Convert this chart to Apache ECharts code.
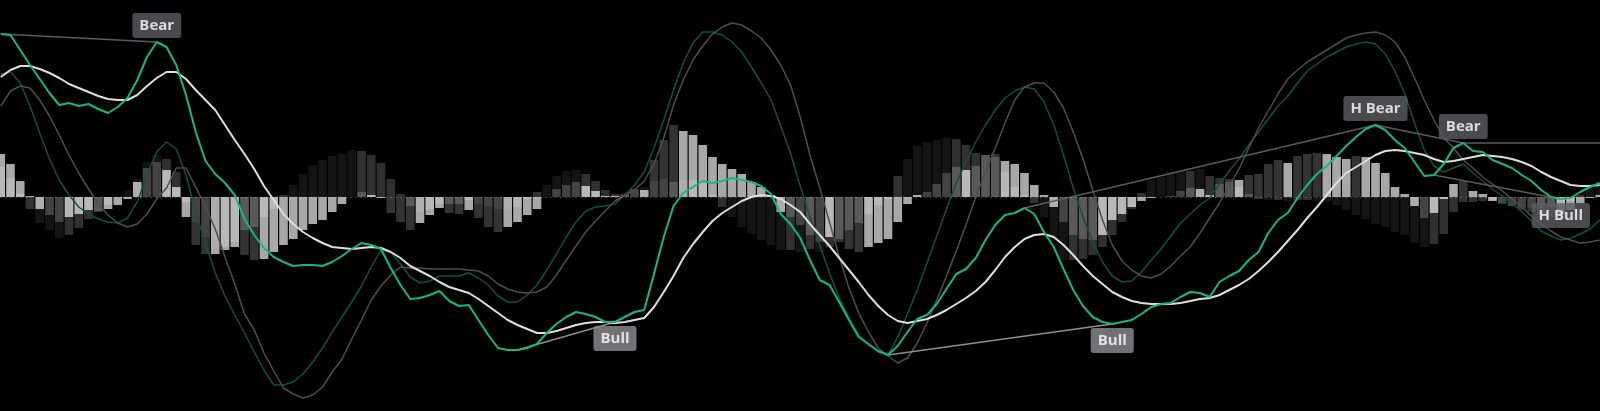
<!DOCTYPE html>
<html><head><meta charset="utf-8">
<script src="https://cdn.jsdelivr.net/npm/echarts@6/dist/echarts.min.js"></script>
<style>html,body{margin:0;padding:0;background:#000;overflow:hidden}#c{width:1600px;height:411px}</style>
</head><body><div id="c"></div><script>
// Fast MACD line (bright green)
const fastMacd=[163,162,147,132,118,104,92,94,91,93,88,84,90,99,117,140,155,150,132,102,65,36,23,14,2,-22,-38,-51,-60,-65,-69,-68,-68,-69,-65,-59,-52,-46,-48,-52,-71,-88,-102,-101,-98,-94,-104,-109,-108,-123,-138,-151,-153,-153,-151,-147,-136,-127,-120,-115,-117,-120,-125,-125,-120,-115,-113,-77,-40,-9,4,10,16,14,16,19,17,15,11,3,-17,-27,-41,-63,-83,-88,-105,-123,-140,-147,-154,-158,-149,-135,-122,-118,-107,-92,-77,-72,-61,-43,-28,-18,-16,-11,-17,-35,-50,-72,-93,-109,-120,-125,-127,-125,-123,-117,-110,-107,-106,-100,-95,-96,-100,-85,-79,-74,-63,-55,-36,-23,-16,-1,12,23,31,41,51,60,68,72,67,57,49,35,21,22,33,49,54,46,45,37,33,29,22,16,7,0,-2,-1,5,10,14];
// Fast signal line (white)
const fastSignal=[120,127,131,131,128,124,119,113,109,105,101,98,97,97,102,111,119,125,125,118,107,97,87,72,57,43,28,11,-3,-17,-27,-35,-41,-46,-50,-51,-52,-51,-50,-51,-55,-61,-69,-74,-79,-85,-90,-93,-96,-102,-109,-116,-123,-128,-132,-136,-136,-134,-131,-128,-126,-125,-125,-126,-125,-123,-121,-110,-95,-79,-61,-47,-35,-24,-16,-10,-4,0,2,1,-2,-8,-15,-27,-38,-49,-61,-73,-85,-98,-109,-118,-124,-126,-124,-122,-118,-113,-107,-101,-94,-85,-73,-60,-50,-42,-38,-37,-40,-48,-58,-69,-79,-87,-95,-100,-104,-106,-107,-107,-107,-106,-104,-102,-101,-98,-93,-88,-82,-74,-65,-55,-44,-33,-21,-10,2,14,24,30,36,42,46,47,46,44,42,38,35,36,38,40,42,41,40,38,35,31,25,20,16,12,11,11,12];
// Slow MACD line (dark green)
const slowMacd=[123,125,114,91,64,38,17,2,-10,-17,-22,-25,-26,-21,-5,22,45,55,48,22,-15,-47,-76,-99,-118,-136,-155,-173,-188,-188,-185,-177,-165,-151,-135,-120,-105,-89,-70,-53,-55,-67,-80,-86,-84,-79,-79,-79,-76,-81,-88,-99,-105,-105,-98,-88,-73,-57,-40,-25,-14,-10,-9,-7,2,12,25,49,77,107,134,154,165,165,162,155,145,130,114,97,71,44,11,-20,-48,-76,-101,-121,-138,-148,-155,-158,-140,-117,-93,-66,-39,-12,14,35,55,72,87,99,106,110,108,95,72,42,9,-20,-45,-65,-79,-85,-84,-75,-63,-52,-39,-26,-17,-8,-1,13,26,38,52,65,78,91,101,114,126,133,140,145,150,153,155,153,143,126,103,74,47,31,25,29,33,24,16,8,1,-6,-15,-24,-34,-39,-43,-41,-37,-32,-23];
// Slow signal line (grey)
const slowSignal=[91,106,111,109,97,81,62,42,24,8,-7,-18,-26,-30,-27,-17,-2,9,29,29,10,-10,-32,-60,-87,-117,-133,-156,-174,-191,-197,-201,-198,-190,-175,-162,-142,-123,-103,-89,-78,-70,-71,-71,-72,-72,-72,-72,-73,-74,-79,-87,-92,-95,-96,-95,-90,-78,-63,-49,-35,-24,-14,-4,2,7,16,33,59,92,117,137,151,163,170,174,172,166,159,147,132,112,80,42,9,-25,-60,-91,-116,-135,-151,-159,-166,-161,-146,-126,-103,-79,-54,-28,0,25,49,74,97,110,114,114,105,89,65,38,7,-23,-48,-64,-73,-79,-81,-77,-69,-59,-50,-36,-21,-6,11,28,49,69,86,103,118,127,135,141,147,153,159,162,164,165,162,155,140,119,97,77,59,49,37,29,20,13,6,-2,-10,-19,-27,-34,-40,-43,-46,-45,-43];
// Fast histogram (light)
const fastHist=[43,33,16,1,-12,-18,-25,-20,-17,-13,-14,-12,-8,-2,15,29,35,27,10,-20,-48,-57,-57,-53,-50,-58,-63,-62,-55,-48,-42,-33,-27,-23,-15,-7,0,5,2,-1,-16,-25,-33,-26,-18,-11,-16,-17,-13,-21,-30,-35,-30,-25,-18,-12,0,8,12,15,11,6,1,1,3,8,7,37,57,72,66,62,52,40,33,28,23,15,10,2,-15,-20,-28,-38,-45,-40,-45,-52,-55,-50,-46,-42,-25,-7,2,5,13,24,30,27,31,42,43,36,33,24,12,2,-10,-25,-38,-42,-43,-38,-23,-17,-10,-4,-1,0,1,6,9,8,2,13,18,17,22,23,33,37,34,41,43,44,43,40,38,41,40,34,24,10,3,-9,-21,-16,-2,13,16,6,3,-4,-7,-9,-13,-15,-18,-20,-18,-13,-6,-1,2];
// Slow histogram (dark)
const slowHist=[30,19,3,-12,-26,-33,-41,-38,-31,-22,-15,-8,0,7,18,35,42,38,25,-5,-25,-40,-50,-50,-45,-33,-30,-20,-12,2,12,23,32,37,41,43,47,46,42,34,18,3,-9,-15,-12,-7,-7,-7,-3,-7,-9,-12,-13,-10,-2,5,12,21,26,27,23,16,7,3,2,8,10,16,18,15,17,17,14,2,-10,-20,-30,-37,-43,-48,-53,-53,-55,-52,-55,-50,-42,-33,-26,-17,-8,-2,21,38,51,55,57,59,58,52,44,42,40,25,10,2,-6,-20,-43,-63,-63,-62,-58,-50,-38,-25,-12,4,17,20,25,26,26,28,21,19,15,10,3,-2,-3,-3,-4,-3,-3,-4,-5,-8,-13,-18,-22,-27,-30,-35,-38,-46,-50,-47,-37,-15,-5,-5,-4,-3,-6,-9,-10,-11,-11,-10,-8,-4,2,9,15];
// Divergences: indexes of the fast-MACD pivots they join
const divergences=[
  {label:'Bear',   from:0,   to:16,  labelAt:16,  side:'top',    tone:'dark'},
  {label:'Bull',   from:53,  to:63,  labelAt:63,  side:'bottom', tone:'light'},
  {label:'Bull',   from:91,  to:114, labelAt:114, side:'bottom', tone:'light'},
  {label:'H Bear', from:105, to:141, labelAt:141, side:'top',    tone:'dark'},
  {label:'Bear',   from:141, to:150, labelAt:150, side:'top',    tone:'dark'},
  {label:'H Bull', from:147, to:160, labelAt:160, side:'bottom', tone:'dark'}
];
const extendFrom=150; // horizontal continuation of the last Bear level

const N=fastMacd.length;
function histData(arr, grow, shrink){
  return arr.map((v,i)=>{
    const prev=i>0?arr[i-1]:v;
    const growing=Math.abs(v)>Math.abs(prev) && (v*prev>=0);
    return {value:[i,v], itemStyle:{color: growing?grow:shrink}};
  });
}
const lineData=a=>a.map((v,i)=>[i,v]);

const series=[
  {type:'bar', data:histData(slowHist,'rgba(255,255,255,0.08)','rgba(255,255,255,0.19)'), barWidth:8.6, barGap:'-100%', z:1},
  {type:'bar', data:histData(fastHist,'rgba(255,255,255,0.2)','rgba(255,255,255,0.66)'), barWidth:8.6, barGap:'-100%', z:2,
   markLine:{silent:true,symbol:'none',label:{show:false},lineStyle:{color:'rgba(255,255,255,0.22)',type:[2,3],width:1},data:[{yAxis:0}]}},
  {type:'line', data:lineData(slowMacd), symbol:'none', lineStyle:{color:'#12523a',width:1.5}, z:3},
  {type:'line', data:lineData(slowSignal), symbol:'none', lineStyle:{color:'#4e4e4e',width:1.5}, z:3},
];
divergences.forEach(d=>{
  series.push({type:'line', symbol:'none', z:4,
    data:[[d.from,fastMacd[d.from]],[d.to,fastMacd[d.to]]],
    lineStyle:{color:d.tone==='light'?'#8f8f93':'#5c5c60',width:1.5}});
});
series.push({type:'line', symbol:'none', z:4,
  data:[[extendFrom,fastMacd[extendFrom]],[N,fastMacd[extendFrom]]],
  lineStyle:{color:'#5c5c60',width:1.5}});
series.push({type:'line', data:lineData(fastSignal), symbol:'none', lineStyle:{color:'#dedede',width:2}, z:5});
series.push({type:'line', data:lineData(fastMacd), symbol:'none', lineStyle:{color:'#17b784',width:2}, z:6});
series.push({type:'scatter', symbolSize:0, z:10,
  data:divergences.map(d=>({value:[d.labelAt,fastMacd[d.labelAt]], name:d.label,
    label:{show:true, formatter:d.label, position:d.side, distance:4,
      backgroundColor:d.tone==='light'?'#8e8f94':'#5b5c61',
      color:'#ffffff', fontFamily:'"Open Sans", sans-serif', fontWeight:'bold', fontSize:15,
      lineHeight:17, padding:[4,7,4,7], borderRadius:3}}))});

const chart=echarts.init(document.getElementById('c'),null,{renderer:'canvas'});
chart.setOption({
  backgroundColor:'#000',
  animation:false,
  grid:{left:0,right:0,top:0,bottom:0},
  xAxis:{type:'value',min:-0.0769,max:164.0256,show:false},
  yAxis:{type:'value',min:-214,max:197,show:false},
  series:series
});
</script></body></html>
